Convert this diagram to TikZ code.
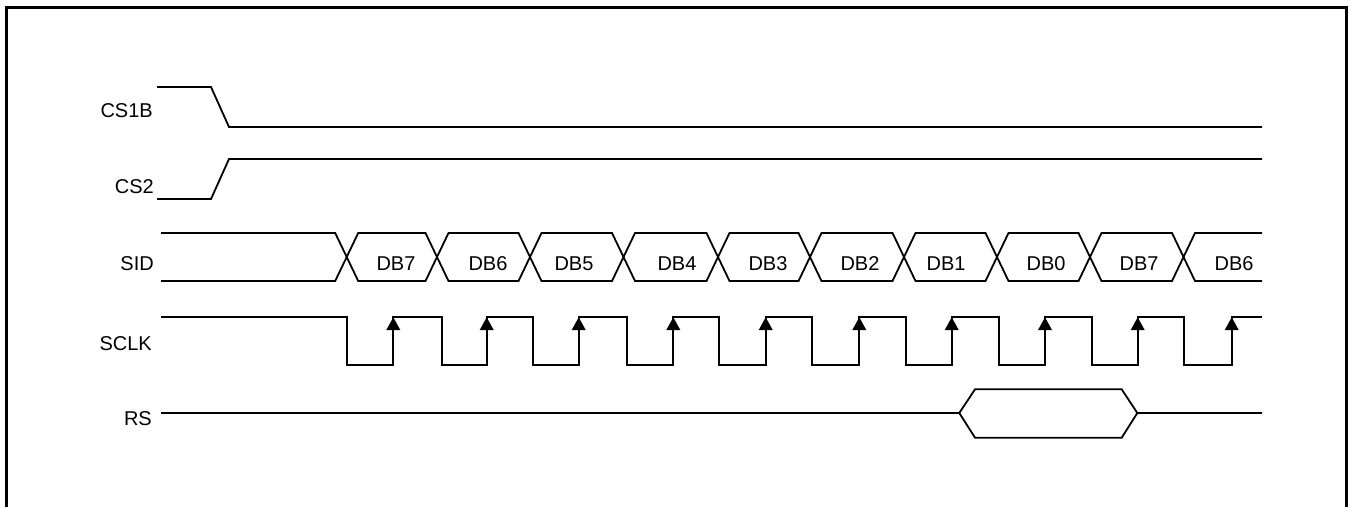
\documentclass[tikz,border=0pt]{standalone}
\usepackage{fontspec}
\setmainfont{Liberation Sans}
\begin{document}
\begin{tikzpicture}[x=1pt,y=-1pt,
  sig/.style={line width=1.8pt, line join=miter},
  framestyle/.style={line width=3pt},
  lbl/.style={anchor=base east, inner sep=0pt, font=\fontsize{20}{24}\selectfont},
  dbl/.style={anchor=base, inner sep=0pt, font=\fontsize{20}{24}\selectfont},
  tick/.style={fill=black}]
\useasboundingbox (0,0) rectangle (1351,507);
% frame
\draw[framestyle] (6.2,507) -- (6.2,7.5) -- (1346.5,7.5) -- (1346.5,507);
% labels
\node[lbl] (lcs1b) at (153,117) {CS1B};
\node[lbl] (lcs2) at (154,193.3) {CS2};
\node[lbl] (lsid) at (154,270.7) {SID};
\node[lbl] (lsclk) at (152,350) {SCLK};
\node[lbl] (lrs) at (152,425) {RS};
% CS1B
\draw[sig] (157,87) -- (211,87) -- (229,127) -- (1262,127);
% CS2
\draw[sig] (157,199) -- (211,199) -- (229,159) -- (1262,159);
% SID
\draw[sig] (161,233) foreach \c in {346.7,437,530,623.5,718,810,904,997,1090,1183.5} { -- (\c-11.5,233) -- (\c,257) -- (\c+11.5,233) } -- (1262,233);
\draw[sig] (161,281) foreach \c in {346.7,437,530,623.5,718,810,904,997,1090,1183.5} { -- (\c-11.5,281) -- (\c,257) -- (\c+11.5,281) } -- (1262,281);
\foreach \x/\t [count=\i] in {396/DB7,488/DB6,574/DB5,677/DB4,768/DB3,860/DB2,946/DB1,1046/DB0,1139/DB7,1234/DB6}
  \node[dbl] (db\i) at (\x,270) {\t};
% SCLK
\draw[sig] (161,317.3) foreach \f/\r in {346.7/393.3,441.7/486.7,533/578.7,626.7/673.3,719.3/765.7,811.7/859.3,906/951.7,999/1045,1091.7/1137.7,1184/1231.7} { -- (\f,317.3) -- (\f,365) -- (\r,365) -- (\r,317.3) } -- (1262,317.3);
\foreach \r in {393.3,486.7,578.7,673.3,765.7,859.3,951.7,1045,1137.7,1231.7}
  \fill[tick] (\r,317.3) -- (\r-7,330) -- (\r+7,330) -- cycle;
% RS
\draw[sig] (161,413) -- (959.3,413) -- (975,389.3) -- (1121.7,389.3) -- (1137.3,413) -- (1262,413);
\draw[sig] (959.3,413) -- (975,437.7) -- (1121.7,437.7) -- (1137.3,413);
\end{tikzpicture}
\end{document}
